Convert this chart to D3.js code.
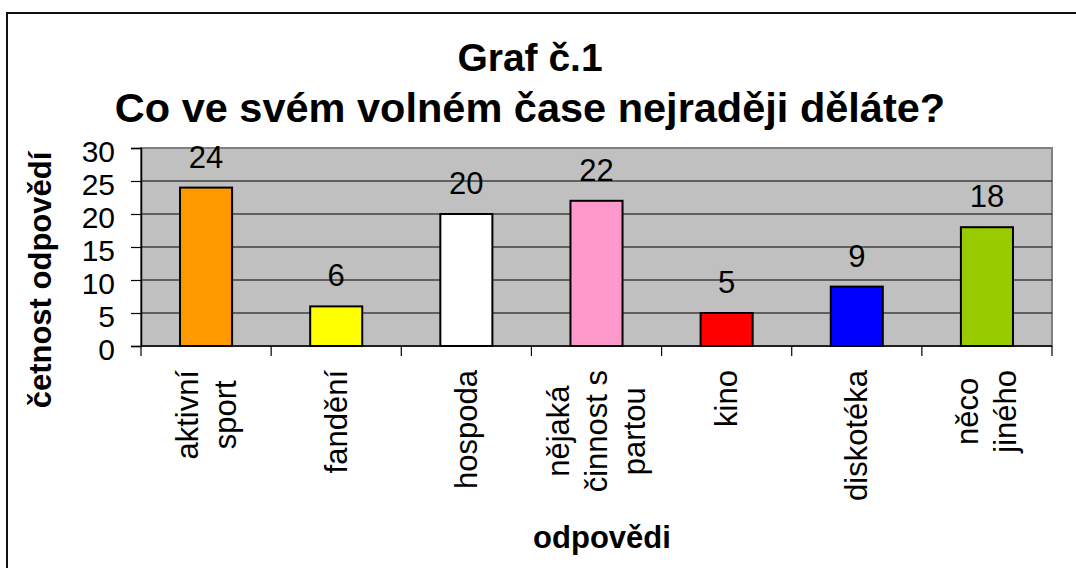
<!DOCTYPE html>
<html>
<head>
<meta charset="utf-8">
<script src="https://cdn.jsdelivr.net/npm/d3@7"></script>
<style>
  body { margin: 0; background: #fff; }
  text { font-family: Arial, "Liberation Sans", sans-serif; fill: #000; }
</style>
</head>
<body>
<div id="chart"></div>
<script>
// chart data
const categories = ["aktivní sport", "fandění", "hospoda", "nějaká činnost s partou", "kino", "diskotéka", "něco jiného"];
const labelLines = [["aktivní", "sport"], ["fandění"], ["hospoda"], ["nějaká", "činnost s", "partou"], ["kino"], ["diskotéka"], ["něco", "jiného"]];
const values = [24, 6, 20, 22, 5, 9, 18];
const barColors = ["#FF9900", "#FFFF00", "#FFFFFF", "#FF99CC", "#FF0000", "#0000FF", "#99CC00"];
const yTicks = [0, 5, 10, 15, 20, 25, 30];
const titleLines = ["Graf č.1", "Co ve svém volném čase nejraději děláte?"];
const yTitle = "četnost odpovědí";
const xTitle = "odpovědi";

const W = 1076, H = 568;
const plot = { left: 141, right: 1052, top: 148, bottom: 346 };

const svg = d3.select("#chart").append("svg")
    .attr("width", W)
    .attr("height", H);

// outer frame (runs off the right and bottom edge in the reference)
svg.append("rect")
    .attr("x", 7).attr("y", 13)
    .attr("width", W + 20).attr("height", H + 20)
    .attr("fill", "#fff")
    .attr("stroke", "#111")
    .attr("stroke-width", 2);

// scales
const x = d3.scaleBand()
    .domain(categories)
    .range([plot.left, plot.right])
    .padding(0);

const y = d3.scaleLinear()
    .domain([0, 30])
    .range([plot.bottom, plot.top]);

const barW = x.step() * 0.4;

// plot background
svg.append("rect")
    .attr("x", plot.left).attr("y", plot.top)
    .attr("width", plot.right - plot.left)
    .attr("height", plot.bottom - plot.top)
    .attr("fill", "#C0C0C0")
    .attr("stroke", "#808080")
    .attr("stroke-width", 2);

// gridlines
svg.append("g")
    .selectAll("line")
    .data(yTicks.filter(t => t > 0 && t < 30))
    .enter()
    .append("line")
    .attr("x1", plot.left).attr("x2", plot.right)
    .attr("y1", d => y(d)).attr("y2", d => y(d))
    .attr("stroke", "#000")
    .attr("stroke-width", 1);

// y axis
const yAxis = svg.append("g")
    .attr("transform", `translate(${plot.left},0)`)
    .call(d3.axisLeft(y).tickValues(yTicks).tickSize(10).tickPadding(16));
yAxis.select(".domain").attr("stroke", "#000").attr("stroke-width", 1.5);
yAxis.selectAll(".tick line").attr("stroke", "#000").attr("stroke-width", 1.2);
yAxis.selectAll(".tick text")
    .attr("font-size", 30)
    .attr("font-family", "Arial, 'Liberation Sans', sans-serif")
    .attr("dy", "0.45em");

// x axis (ticks between categories)
const boundaries = categories.map(c => x(c)).concat([plot.right]);
svg.append("line")
    .attr("x1", plot.left).attr("x2", plot.right)
    .attr("y1", plot.bottom).attr("y2", plot.bottom)
    .attr("stroke", "#000").attr("stroke-width", 1.5);
svg.append("g")
    .selectAll("line")
    .data(boundaries)
    .enter()
    .append("line")
    .attr("x1", d => d).attr("x2", d => d)
    .attr("y1", plot.bottom).attr("y2", plot.bottom + 10)
    .attr("stroke", "#000").attr("stroke-width", 1.2);

// bars
svg.selectAll(".bar")
    .data(values)
    .enter()
    .append("rect")
    .attr("class", "bar")
    .attr("x", (d, i) => x(categories[i]) + (x.step() - barW) / 2)
    .attr("y", d => y(d))
    .attr("width", barW)
    .attr("height", d => plot.bottom - y(d))
    .attr("fill", (d, i) => barColors[i])
    .attr("stroke", "#000")
    .attr("stroke-width", 2);

// value labels
svg.selectAll(".val")
    .data(values)
    .enter()
    .append("text")
    .attr("class", "val")
    .attr("x", (d, i) => x(categories[i]) + x.step() / 2)
    .attr("y", d => y(d) - 20)
    .attr("text-anchor", "middle")
    .attr("font-size", 31)
    .text(d => d);

// category labels, rotated, lines centered on each other
const lineH = 38;
labelLines.forEach((lines, i) => {
    const cx = x(categories[i]) + x.step() / 2;
    const g = svg.append("g")
        .attr("transform", `translate(${cx},370) rotate(-90)`);
    const texts = g.selectAll("text")
        .data(lines)
        .enter()
        .append("text")
        .attr("font-size", 31)
        .attr("text-anchor", "middle")
        .attr("y", (d, j) => 10.5 + (j - (lines.length - 1) / 2) * lineH)
        .text(d => d);
    let maxLen = 0;
    texts.each(function() { maxLen = Math.max(maxLen, this.getComputedTextLength()); });
    texts.attr("x", -maxLen / 2);
});

// titles
svg.selectAll(".title")
    .data(titleLines)
    .enter()
    .append("text")
    .attr("class", "title")
    .attr("x", 530)
    .attr("y", (d, i) => i === 0 ? 71 : 122)
    .attr("text-anchor", "middle")
    .attr("font-size", (d, i) => i === 0 ? 39 : 41.5)
    .attr("font-weight", "bold")
    .text(d => d);

// axis titles
svg.append("text")
    .attr("transform", "translate(51,280) rotate(-90)")
    .attr("text-anchor", "middle")
    .attr("font-size", 31)
    .attr("font-weight", "bold")
    .text(yTitle);

svg.append("text")
    .attr("x", 602)
    .attr("y", 548)
    .attr("text-anchor", "middle")
    .attr("font-size", 31)
    .attr("font-weight", "bold")
    .text(xTitle);
</script>
</body>
</html>
